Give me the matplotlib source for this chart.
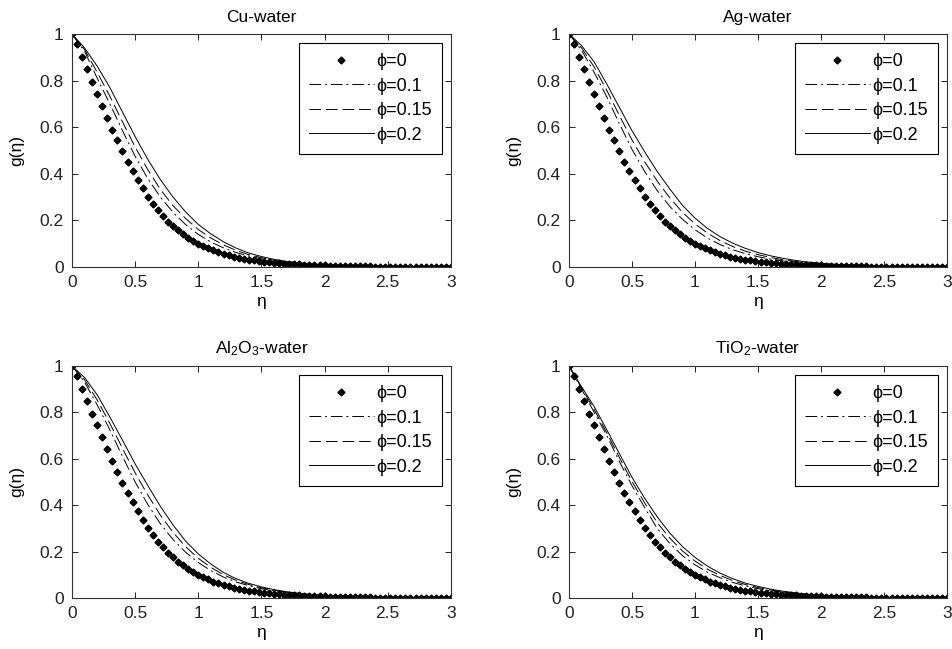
import numpy as np
import matplotlib
matplotlib.use("Agg")
import matplotlib.pyplot as plt

plt.rcParams['font.family'] = ['Liberation Sans', 'DejaVu Sans']
plt.rcParams['mathtext.default'] = 'regular'

# eta grids (dots are the phi=0 solution mesh, lines read every 0.1)
eta_dots = np.linspace(0, 3, 76)
eta_line = np.linspace(0, 3, 31)

# phi = 0 (base fluid) - same in every panel
g_phi0 = [1.000, 0.955, 0.900, 0.848, 0.795, 0.744, 0.692, 0.640, 0.590, 0.543,
          0.496, 0.452, 0.412, 0.373, 0.337, 0.302, 0.271, 0.243, 0.218, 0.195,
          0.175, 0.157, 0.141, 0.126, 0.112, 0.100, 0.090, 0.080, 0.071, 0.063,
          0.056, 0.050, 0.045, 0.040, 0.036, 0.032, 0.029, 0.026, 0.023, 0.021,
          0.019, 0.017, 0.015, 0.014, 0.012, 0.011, 0.010, 0.009, 0.008, 0.007,
          0.0065, 0.006, 0.005, 0.005, 0.004, 0.004, 0.004, 0.003, 0.003, 0.003,
          0.002, 0.002, 0.002, 0.002, 0.002, 0.001, 0.001, 0.001, 0.001, 0.001,
          0.001, 0.0, 0.0, 0.0, 0.0, 0.0]

# Cu-water
cu_01 = [1.0, 0.925, 0.81, 0.70, 0.585, 0.475, 0.38, 0.30, 0.235, 0.182, 0.140,
         0.107, 0.082, 0.062, 0.047, 0.035, 0.026, 0.019, 0.014, 0.010, 0.007,
         0.005, 0.004, 0.003, 0.002, 0.0015, 0.001, 0.0007, 0.0004, 0.0002, 0.0]
cu_015 = [1.0, 0.933, 0.835, 0.733, 0.623, 0.515, 0.418, 0.333, 0.263, 0.208, 0.161,
          0.124, 0.095, 0.071, 0.053, 0.040, 0.029, 0.021, 0.0155, 0.011, 0.008,
          0.006, 0.0045, 0.0035, 0.0025, 0.0018, 0.0012, 0.0008, 0.0005, 0.0003, 0.0]
cu_02 = [1.0, 0.94, 0.862, 0.77, 0.665, 0.56, 0.462, 0.375, 0.30, 0.236, 0.183,
         0.142, 0.108, 0.081, 0.06, 0.045, 0.033, 0.024, 0.018, 0.013, 0.0095,
         0.007, 0.005, 0.004, 0.003, 0.002, 0.0015, 0.001, 0.0007, 0.0004, 0.0]

# Ag-water
ag_01 = [1.0, 0.93, 0.835, 0.73, 0.615, 0.505, 0.41, 0.328, 0.26, 0.205, 0.16,
         0.124, 0.096, 0.074, 0.057, 0.044, 0.034, 0.026, 0.019, 0.014, 0.011,
         0.008, 0.006, 0.0045, 0.0035, 0.0025, 0.0018, 0.0012, 0.0008, 0.0004, 0.0]
ag_015 = [1.0, 0.94, 0.858, 0.758, 0.65, 0.545, 0.452, 0.369, 0.297, 0.235, 0.185,
          0.145, 0.113, 0.088, 0.068, 0.053, 0.041, 0.031, 0.0235, 0.0175, 0.0135,
          0.010, 0.0075, 0.0058, 0.0043, 0.0032, 0.0024, 0.0016, 0.001, 0.0005, 0.0]
ag_02 = [1.0, 0.95, 0.88, 0.785, 0.685, 0.585, 0.495, 0.41, 0.335, 0.265, 0.21,
         0.165, 0.13, 0.102, 0.08, 0.062, 0.048, 0.037, 0.028, 0.021, 0.016,
         0.012, 0.009, 0.007, 0.005, 0.004, 0.003, 0.002, 0.0012, 0.0006, 0.0]

# Al2O3-water
al_01 = [1.0, 0.93, 0.832, 0.725, 0.61, 0.5, 0.403, 0.32, 0.252, 0.197, 0.153,
         0.118, 0.09, 0.069, 0.053, 0.04, 0.031, 0.023, 0.017, 0.013, 0.0095,
         0.007, 0.0052, 0.0039, 0.0029, 0.0021, 0.0015, 0.001, 0.0006, 0.0003, 0.0]
al_015 = [1.0, 0.94, 0.853, 0.752, 0.645, 0.539, 0.444, 0.357, 0.283, 0.221, 0.171,
          0.132, 0.1, 0.076, 0.058, 0.044, 0.0335, 0.025, 0.0185, 0.014, 0.0103,
          0.0078, 0.0058, 0.0043, 0.0032, 0.0024, 0.0017, 0.0012, 0.0007, 0.0004, 0.0]
al_02 = [1.0, 0.95, 0.875, 0.78, 0.68, 0.578, 0.485, 0.395, 0.315, 0.245, 0.19,
         0.146, 0.11, 0.083, 0.063, 0.048, 0.036, 0.027, 0.02, 0.015, 0.011,
         0.0085, 0.0063, 0.0047, 0.0035, 0.0026, 0.0019, 0.0013, 0.0008, 0.0004, 0.0]

# TiO2-water
ti_01 = [1.0, 0.90, 0.80, 0.70, 0.588, 0.484, 0.39, 0.30, 0.235, 0.183, 0.143,
         0.111, 0.087, 0.067, 0.052, 0.04, 0.031, 0.024, 0.018, 0.0135, 0.010,
         0.0076, 0.0057, 0.0043, 0.0032, 0.0023, 0.0016, 0.0011, 0.0007, 0.0003, 0.0]
ti_015 = [1.0, 0.905, 0.812, 0.712, 0.605, 0.502, 0.41, 0.325, 0.258, 0.203, 0.159,
          0.124, 0.097, 0.075, 0.058, 0.045, 0.0345, 0.0265, 0.02, 0.0148, 0.011,
          0.0083, 0.0063, 0.0047, 0.0035, 0.0025, 0.0018, 0.0012, 0.0008, 0.0004, 0.0]
ti_02 = [1.0, 0.91, 0.825, 0.725, 0.622, 0.52, 0.43, 0.35, 0.28, 0.222, 0.175,
         0.137, 0.107, 0.083, 0.064, 0.05, 0.038, 0.029, 0.022, 0.016, 0.012,
         0.009, 0.0068, 0.005, 0.0037, 0.0027, 0.002, 0.0013, 0.0008, 0.0004, 0.0]

titles = ['Cu-water', 'Ag-water', 'Al$_2$O$_3$-water', 'TiO$_2$-water']
panel_data = [(cu_01, cu_015, cu_02), (ag_01, ag_015, ag_02),
              (al_01, al_015, al_02), (ti_01, ti_015, ti_02)]
labels = ['ϕ=0', 'ϕ=0.1', 'ϕ=0.15', 'ϕ=0.2']
xticks = [0, 0.5, 1, 1.5, 2, 2.5, 3]
xtick_labels = ['0', '0.5', '1', '1.5', '2', '2.5', '3']
yticks = [0, 0.2, 0.4, 0.6, 0.8, 1]
ytick_labels = ['0', '0.2', '0.4', '0.6', '0.8', '1']

fig = plt.figure(figsize=(9.52, 6.49), dpi=100)

# axes boxes in figure fractions [left, bottom, width, height]
boxes = [[0.0756, 0.5886, 0.398, 0.359],
         [0.5977, 0.5886, 0.397, 0.359],
         [0.0756, 0.0786, 0.398, 0.3575],
         [0.5977, 0.0786, 0.397, 0.3575]]

fs = 12.5
lw = 0.7
for box, title, (g01, g015, g02) in zip(boxes, titles, panel_data):
    ax = fig.add_axes(box)
    ax.plot(eta_dots, g_phi0, linestyle='none', marker='D', markersize=3.5,
            color='black', label=labels[0])
    ax.plot(eta_line, g01, color='black', linewidth=lw,
            dashes=(12, 4, 2, 4), label=labels[1])
    ax.plot(eta_line, g015, color='black', linewidth=lw,
            dashes=(12, 5), label=labels[2])
    ax.plot(eta_line, g02, linestyle='-', color='black', linewidth=lw, label=labels[3])

    ax.set_xlim(0, 3)
    ax.set_ylim(0, 1)
    ax.set_xticks(xticks)
    ax.set_xticklabels(xtick_labels)
    ax.set_yticks(yticks)
    ax.set_yticklabels(ytick_labels)
    ax.tick_params(direction='in', top=True, right=True, length=4, width=0.7,
                   labelsize=fs, colors='#222222')
    ax.tick_params(axis='x', pad=6)
    ax.tick_params(axis='y', pad=6)
    for sp in ax.spines.values():
        sp.set_linewidth(0.8)
        sp.set_color('#333333')

    ax.set_xlabel('η', fontsize=fs, labelpad=3)
    ax.set_ylabel('g(η)', fontsize=fs, labelpad=11)
    ax.set_title(title, fontsize=fs, pad=9)

    leg = ax.legend(loc='upper right', fontsize=13, handlelength=3.6,
                    handletextpad=0.15, labelspacing=0.42, borderpad=0.55,
                    borderaxespad=0.5, fancybox=False, framealpha=1,
                    edgecolor='black', markerscale=1.0)
    leg.get_frame().set_linewidth(0.8)

plt.savefig('out.png', dpi=100)
plt.close()
